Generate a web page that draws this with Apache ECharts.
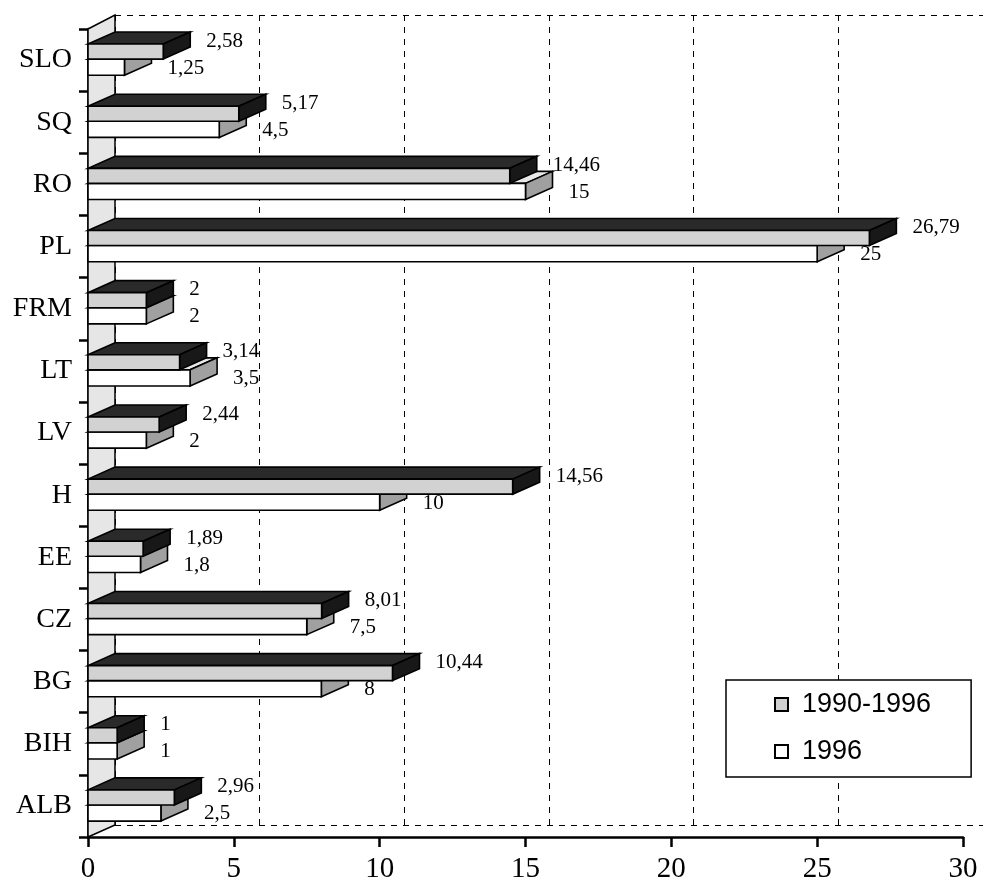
<!DOCTYPE html>
<html>
<head>
<meta charset="utf-8">
<script src="https://cdn.jsdelivr.net/npm/echarts@6/dist/echarts.min.js"></script>
<style>
  html, body { margin: 0; padding: 0; background: #fff; }
  #chart { width: 983px; height: 888px; }
</style>
</head>
<body>
<div id="chart"></div>
<script>
// categories bottom to top (ECharts category y axis starts at the bottom)
const countries = ['ALB', 'BIH', 'BG', 'CZ', 'EE', 'H', 'LV', 'LT', 'FRM', 'PL', 'RO', 'SQ', 'SLO']
const values9096 = [2.96, 1, 10.44, 8.01, 1.89, 14.56, 2.44, 3.14, 2, 26.79, 14.46, 5.17, 2.58]
const values96 = [2.5, 1, 8, 7.5, 1.8, 10, 2, 3.5, 2, 25, 15, 4.5, 1.25]
const xTicks = [0, 5, 10, 15, 20, 25, 30]

const serif = 'Liberation Serif'
const DX = 27 // 3d depth
const DY = 12

const fmt = v => String(v).replace('.', ',')

// pseudo 3d bar: top face, end face, front face + value label
// offset / height are fractions of the category band, measured from its centre
const make3dBar = (offset, height, colors) => (params, api) => {
  const v = api.value(0)
  const cat = api.value(1)
  const start = api.coord([0, cat])
  const end = api.coord([v, cat])
  const band = api.size([0, 1])[1]
  const x0 = start[0], x1 = end[0]
  const y0 = start[1] + offset * band
  const y1 = y0 + height * band
  const line = { stroke: '#000', lineWidth: 1.6 }
  return {
    type: 'group',
    children: [
      {
        type: 'polygon',
        shape: { points: [[x0, y0], [x1, y0], [x1 + DX, y0 - DY], [x0 + DX, y0 - DY]] },
        style: Object.assign({ fill: colors.top }, line)
      },
      {
        type: 'polygon',
        shape: { points: [[x1, y0], [x1 + DX, y0 - DY], [x1 + DX, y1 - DY], [x1, y1]] },
        style: Object.assign({ fill: colors.side }, line)
      },
      {
        type: 'rect',
        shape: { x: x0, y: y0, width: x1 - x0, height: y1 - y0 },
        style: Object.assign({ fill: colors.front }, line)
      },
      {
        type: 'text',
        x: x1 + DX + 16,
        y: start[1] + colors.labelDy,
        style: {
          text: fmt(v),
          fill: '#000',
          font: '21px "' + serif + '"',
          textAlign: 'left',
          textVerticalAlign: 'middle'
        }
      }
    ]
  }
}

const chart = echarts.init(document.getElementById('chart'))

const option = {
  backgroundColor: '#fff',
  animation: false,
  grid: [
    { left: 88, right: 20, top: 29, bottom: 51 },
    // back wall, shifted by the 3d depth
    { left: 88 + DX, right: 20 - DX, top: 29 - DY - 2, bottom: 51 + DY }
  ],
  legend: {
    orient: 'vertical',
    left: 726,
    top: 680,
    padding: [11, 40, 12, 48],
    itemGap: 20,
    itemWidth: 13,
    itemHeight: 13,
    borderColor: '#000',
    borderWidth: 1.5,
    backgroundColor: '#fff',
    textStyle: { fontFamily: 'Liberation Sans', fontSize: 27, color: '#000', padding: [0, 0, 0, 9] },
    data: [
      { name: '1990-1996', icon: 'rect', itemStyle: { color: '#d0d0d0', borderColor: '#000', borderWidth: 2 } },
      { name: '1996', icon: 'rect', itemStyle: { color: '#fff', borderColor: '#000', borderWidth: 2 } }
    ]
  },
  xAxis: [
    {
      gridIndex: 0,
      type: 'value',
      min: xTicks[0],
      max: xTicks[xTicks.length - 1],
      interval: 5,
      axisLine: { show: true, lineStyle: { color: '#000', width: 2.5 } },
      axisTick: { show: true, length: 10, lineStyle: { color: '#000', width: 2.5 } },
      axisLabel: { color: '#000', fontFamily: serif, fontSize: 29, margin: 18 },
      splitLine: { show: false }
    },
    {
      gridIndex: 1,
      type: 'value',
      min: 0,
      max: 30,
      interval: 5,
      axisLine: { show: false },
      axisTick: { show: false },
      axisLabel: { show: false },
      splitLine: { show: true, lineStyle: { color: '#000', type: [6, 6], width: 1 } }
    }
  ],
  yAxis: [
    {
      gridIndex: 0,
      type: 'category',
      data: countries,
      axisLine: { show: true, lineStyle: { color: '#000', width: 2.5 } },
      axisTick: { show: true, length: 9, lineStyle: { color: '#000', width: 2.5 } },
      axisLabel: { color: '#000', fontFamily: serif, fontSize: 28, margin: 16 },
      splitLine: { show: false }
    },
    {
      gridIndex: 1,
      type: 'value',
      min: 0,
      max: 1,
      interval: 1,
      axisLine: { show: false },
      axisTick: { show: false },
      axisLabel: { show: false },
      splitLine: { show: true, lineStyle: { color: '#000', type: [6, 6], width: 1 } }
    }
  ],
  graphic: [
    // left wall of the 3d box
    {
      type: 'polygon',
      z: 1,
      shape: { points: [[88, 29], [88 + DX, 29 - DY - 2], [88 + DX, 837 - DY], [88, 837]] },
      style: { fill: '#e6e6e6', stroke: '#000', lineWidth: 1.5 }
    }
  ],
  series: [
    {
      name: '1996',
      type: 'custom',
      xAxisIndex: 0,
      yAxisIndex: 0,
      itemStyle: { color: '#fff' },
      renderItem: make3dBar(-0.016, 0.26, { front: '#fff', top: '#e8e8e8', side: '#a0a0a0', labelDy: 8 }),
      data: values96.map((v, i) => [v, i])
    },
    {
      name: '1990-1996',
      type: 'custom',
      xAxisIndex: 0,
      yAxisIndex: 0,
      itemStyle: { color: '#d0d0d0' },
      renderItem: make3dBar(-0.258, 0.242, { front: '#d2d2d2', top: '#2a2a2a', side: '#181818', labelDy: -19 }),
      data: values9096.map((v, i) => [v, i])
    }
  ]
}

chart.setOption(option)
</script>
</body>
</html>
